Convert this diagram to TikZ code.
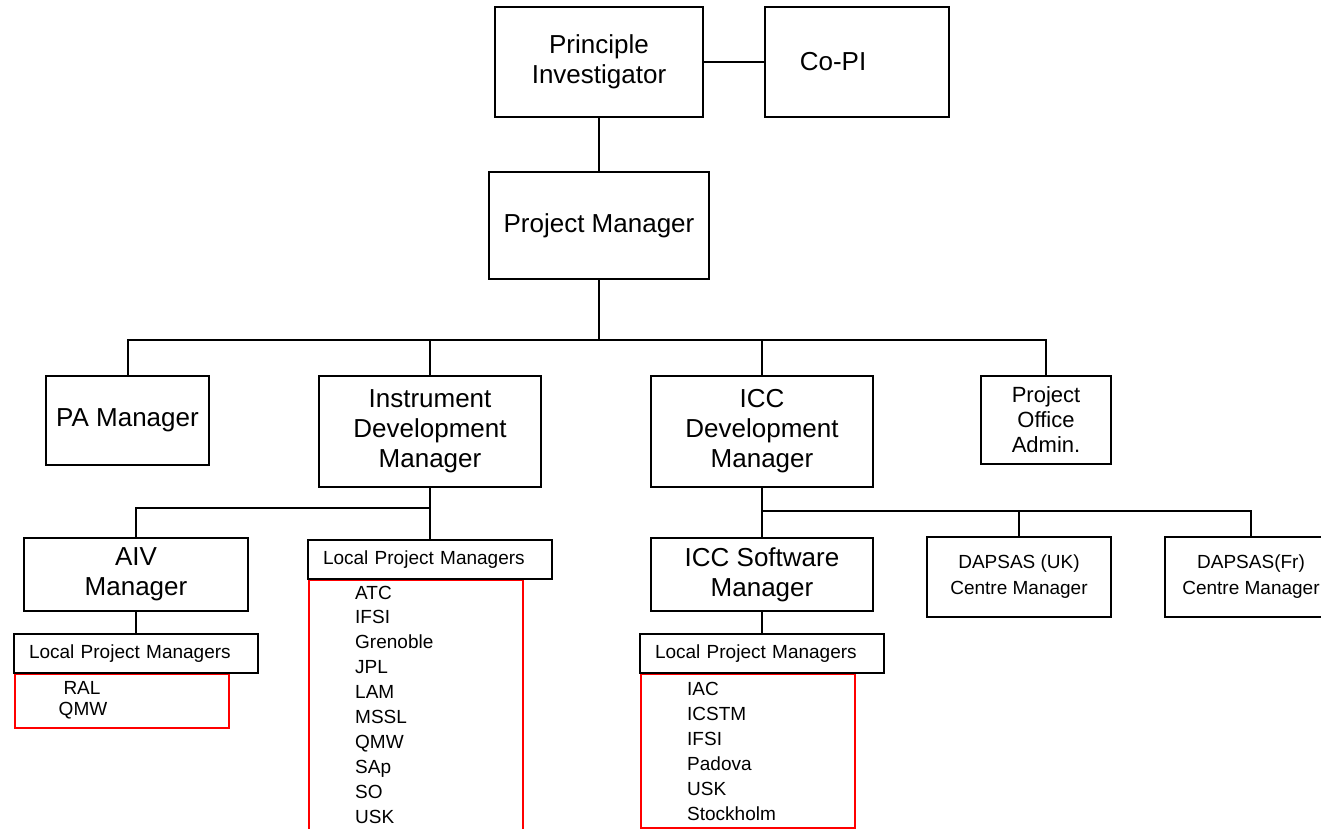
\documentclass[tikz,border=0pt]{standalone}
\usepackage{fontspec}
\setmainfont{Liberation Sans}
\newcommand\szBig{\fontsize{26pt}{30pt}\selectfont}
\newcommand\szMid{\fontsize{22pt}{25pt}\selectfont}
\newcommand\szSml{\fontsize{19pt}{26pt}\selectfont}
\begin{document}
\begin{tikzpicture}[x=1pt,y=-1pt,
  orgbox/.style={draw=black, line width=2pt, fill=white, inner sep=0pt, align=center},
  lpmbox/.style={orgbox, minimum width=244pt, minimum height=39pt, text width=214pt, inner xsep=15pt, align=left, font=\szSml},
  redbox/.style={draw=red, line width=2pt, inner sep=0pt, anchor=north west},
  conn/.style={draw=black, line width=2pt},
  listtxt/.style={inner sep=0pt, font=\szSml}]
\useasboundingbox (0,0) rectangle (1321,828);
\clip (0,0) rectangle (1321,828);
% top level
\node[orgbox, minimum width=208pt, minimum height=110pt, font=\szBig] (pi) at (599,62) {Principle\\Investigator};
\node[orgbox, minimum width=184pt, minimum height=110pt, font=\szBig] (copi) at (857,62) {\hspace*{-48pt}Co-PI};
\node[orgbox, minimum width=220pt, minimum height=107pt, font=\szBig] (pm) at (599,225.5) {Project Manager};
% second level
\node[orgbox, minimum width=163pt, minimum height=89pt, font=\szBig] (pa) at (127.5,420.5) {PA Manager};
\node[orgbox, minimum width=222pt, minimum height=111pt, font=\szBig] (idm) at (430,431.5) {Instrument\\Development\\Manager};
\node[orgbox, minimum width=222pt, minimum height=111pt, font=\szBig] (icc) at (762,431.5) {ICC\\Development\\Manager};
\node[orgbox, minimum width=130pt, minimum height=88pt, font=\szMid] (poa) at (1046,420) {Project\\Office\\Admin.};
% red lists (drawn first, under the header boxes)
\node[redbox, minimum width=214pt, minimum height=54pt] (r1) at (14,673) {};
\node[redbox, minimum width=214pt, minimum height=262pt] (r2) at (308,579) {};
\node[redbox, minimum width=214pt, minimum height=154pt] (r3) at (640,673) {};
% third level
\node[orgbox, minimum width=224pt, minimum height=73pt, font=\szBig] (aiv) at (136,574.5) {AIV\\Manager};
\node[lpmbox] (lpm1) at (136,653.5) {Local Project Managers};
\node[lpmbox] (lpm2) at (430,559.5) {Local Project Managers};
\node[orgbox, minimum width=222pt, minimum height=73pt, font=\szBig] (iccsw) at (762,574.5) {ICC Software\\Manager};
\node[lpmbox] (lpm3) at (762,653.5) {Local Project Managers};
\node[orgbox, minimum width=184pt, minimum height=80pt, font=\szSml] (dapuk) at (1019,577) {DAPSAS (UK)\\Centre Manager};
\node[orgbox, minimum width=172pt, minimum height=80pt, font=\szSml] (dapfr) at (1251,577) {DAPSAS(Fr)\\Centre Manager};
% list texts
\node[listtxt, anchor=base] (l1a) at (82,694) {RAL};
\node[listtxt, anchor=base] (l1b) at (83,715) {QMW};
\foreach \t [count=\i from 0] in {ATC,IFSI,Grenoble,JPL,LAM,MSSL,QMW,SAp,SO,USK}
  \node[listtxt, anchor=base west] (l2-\i) at (355,{599+24.9*\i}) {\t};
\foreach \t [count=\i from 0] in {IAC,ICSTM,IFSI,Padova,USK,Stockholm}
  \node[listtxt, anchor=base west] (l3-\i) at (687,{695+25*\i}) {\t};
% connectors
\draw[conn] (pi.east) -- (copi.west);
\draw[conn] (pi.south) -- (pm.north);
\coordinate (b1) at (599,340);
\draw[conn] (pm.south) -- (b1);
\draw[conn] (b1) -| (pa.north);
\draw[conn] (b1) -| (idm.north);
\draw[conn] (b1) -| (icc.north);
\draw[conn] (b1) -| (poa.north);
\coordinate (b2) at (430,508);
\draw[conn] (idm.south) -- (b2);
\draw[conn] (b2) -| (aiv.north);
\draw[conn] (b2) -- (lpm2.north);
\draw[conn] (aiv.south) -- (lpm1.north);
\coordinate (b3) at (762,511);
\draw[conn] (icc.south) -- (b3);
\draw[conn] (b3) -- (iccsw.north);
\draw[conn] (b3) -| (dapuk.north);
\draw[conn] (b3) -| (dapfr.north);
\draw[conn] (iccsw.south) -- (lpm3.north);
\end{tikzpicture}
\end{document}
